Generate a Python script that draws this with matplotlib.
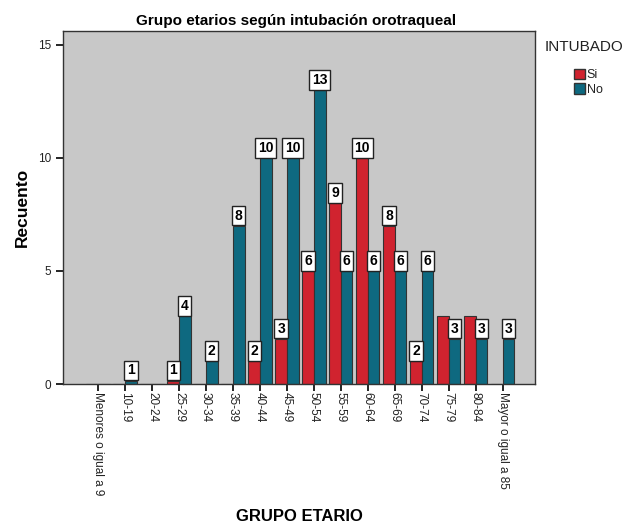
import matplotlib.pyplot as plt
from matplotlib.patches import Patch
import numpy as np

plt.rcParams['font.family'] = ['Liberation Sans', 'DejaVu Sans']

# Categorias de edad
grupos = ['Menores o igual a 9', '10-19', '20-24', '25-29', '30-34', '35-39',
          '40-44', '45-49', '50-54', '55-59', '60-64', '65-69', '70-74',
          '75-79', '80-84', 'Mayor o igual a 85']

# Alturas de las barras tal como aparecen en el grafico
si_altura = [0, 0, 0, 0.15, 0, 0, 1, 2, 5, 8, 10, 7, 1, 3, 3, 0]
no_altura = [0, 0.15, 0, 3, 1, 7, 10, 10, 13, 5, 5, 5, 5, 2, 2, 2]

# Etiquetas de recuento mostradas (None = sin etiqueta)
si_etiqueta = [None, None, None, 1, None, None, 2, 3, 6, 9, 10, 8, 2, None, None, None]
no_etiqueta = [None, 1, None, 4, 2, 8, 10, 10, 13, 6, 6, 6, 6, 3, 3, 3]

rojo = '#D0232F'
azul = '#0E6980'
borde = '#333333'

fig = plt.figure(figsize=(6.3, 5.27), dpi=100)
ax = fig.add_axes([0.1, 0.2713, 0.749, 0.67])
ax.set_facecolor('#C8C8C8')

x = np.arange(len(grupos))
w = 0.43
ax.bar(x - w / 2, si_altura, w, color=rojo, edgecolor=borde, linewidth=0.8)
ax.bar(x + w / 2, no_altura, w, color=azul, edgecolor=borde, linewidth=0.8)

caja = dict(boxstyle='square,pad=0.2', fc='white', ec='#222222', lw=1)
for xs, alturas, etiquetas in [(x - w / 2, si_altura, si_etiqueta), (x + w / 2, no_altura, no_etiqueta)]:
    for xi, h, et in zip(xs, alturas, etiquetas):
        if et is None:
            continue
        ax.annotate(str(et), (xi, h), xytext=(0, 2.3), textcoords='offset points',
                    ha='center', va='bottom', fontsize=10, fontweight='bold', bbox=caja)

ax.set_xlim(-1.3, 16.19)
ax.set_ylim(0, 15.62)
ax.set_yticks([0, 5, 10, 15])
ax.set_xticks(x)
ax.set_xticklabels(grupos, rotation=-90, fontsize=8.5, color='#222222')
ax.tick_params(axis='y', labelsize=8.5, labelcolor='#222222', length=5, width=1.2)
ax.tick_params(axis='x', length=5, width=1.2, pad=1)
for s in ax.spines.values():
    s.set_color('#333333')
    s.set_linewidth(1)

ax.set_ylabel('Recuento', fontsize=12.5, fontweight='bold', labelpad=6)
fig.text(0.476, 0.005, 'GRUPO ETARIO', ha='center', va='bottom', fontsize=12, fontweight='bold')
fig.text(0.47, 0.961, 'Grupo etarios según intubación orotraqueal', ha='center', va='center',
         fontsize=11, fontweight='bold')

# Leyenda
fig.text(584 / 630, 1 - 47 / 527, 'INTUBADO', ha='center', va='center', fontsize=11, color='#222222')
handles = [Patch(facecolor=rojo, edgecolor=borde, label='Si'),
           Patch(facecolor=azul, edgecolor=borde, label='No')]
leg = fig.legend(handles=handles, loc='upper left', bbox_to_anchor=(565 / 630, 1 - 60 / 527),
                 frameon=False, fontsize=9, handlelength=0.9, handleheight=0.9,
                 handletextpad=0.15, labelspacing=0.15, borderpad=0.2)
for t in leg.get_texts():
    t.set_color('#222222')

plt.savefig('out.png', dpi=100)
